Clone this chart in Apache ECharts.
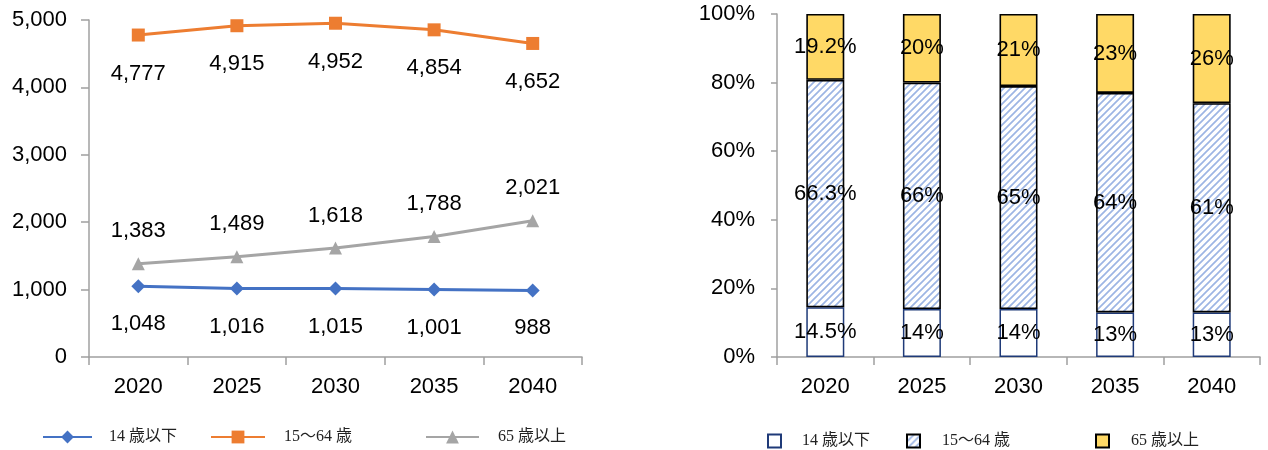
<!DOCTYPE html>
<html>
<head>
<meta charset="utf-8">
<script src="https://cdn.jsdelivr.net/npm/echarts@6/dist/echarts.min.js"></script>
<style>
  html, body { margin: 0; padding: 0; background: #fff; }
  #chart { width: 1268px; height: 450px; }
</style>
</head>
<body>
<div id="chart"></div>
<script>
// Population by age group (thousands) and age composition (%)
const years = ['2020', '2025', '2030', '2035', '2040'];

const popUnder14 = [1048, 1016, 1015, 1001, 988];
const pop15to64 = [4777, 4915, 4952, 4854, 4652];
const pop65plus = [1383, 1489, 1618, 1788, 2021];

const shareUnder14 = [14.5, 14, 14, 13, 13];
const share15to64 = [66.3, 66, 65, 64, 61];
const share65plus = [19.2, 20, 21, 23, 26];

const popTicks = [0, 1000, 2000, 3000, 4000, 5000];
const shareTicks = [0, 20, 40, 60, 80, 100];

const groupNames = ['14 歳以下', '15～64 歳', '65 歳以上'];
// bar series carry their own names so the two legends stay separate
const barNames = ['構成比:14 歳以下', '構成比:15～64 歳', '構成比:65 歳以上'];

// diagonal hatch fill for the working-age segment
function hatch() {
  const s = 7;
  const c = document.createElement('canvas');
  c.width = s; c.height = s;
  const g = c.getContext('2d');
  g.fillStyle = '#ffffff';
  g.fillRect(0, 0, s, s);
  g.strokeStyle = '#9db5e4';
  g.lineWidth = 1.7;
  g.beginPath();
  g.moveTo(-1, s + 1); g.lineTo(s + 1, -1);
  g.moveTo(-1, 1); g.lineTo(1, -1);
  g.moveTo(s - 1, s + 1); g.lineTo(s + 1, s - 1);
  g.stroke();
  return c;
}
const hatchFill = { image: hatch(), repeat: 'repeat' };

const numFont = "'Liberation Sans', Arial, sans-serif";
const legendFont = "'Liberation Serif', 'Noto Sans CJK JP', serif";
const axisGray = '#a0a0a0';

const fmtNum = v => v.toLocaleString('en-US');

function legendAt(left, top, name, iconW, iconH, pad, icon) {
  const lg = {
    left: left, top: top, orient: 'horizontal',
    data: [name], itemWidth: iconW, itemHeight: iconH,
    selectedMode: false,
    formatter: n => n.replace('構成比:', ''),
    textStyle: { fontFamily: legendFont, fontSize: 16, color: '#222', padding: [0, 0, 0, pad] }
  };
  if (icon) lg.icon = icon;
  return lg;
}

const lineLabel = (pos, dist) => ({
  show: true, position: pos, distance: dist,
  fontFamily: numFont, fontSize: 22, color: '#000',
  formatter: p => fmtNum(p.value)
});

const barLabel = {
  show: true, position: 'inside',
  fontFamily: numFont, fontSize: 22, color: '#000',
  formatter: p => p.value + '%'
};

const option = {
  animation: false,
  backgroundColor: '#fff',
  grid: [
    { left: 89, right: 686, top: 20, bottom: 93, containLabel: false, outerBoundsMode: 'none' },
    { left: 777, right: 8, top: 14, bottom: 93, containLabel: false, outerBoundsMode: 'none' }
  ],
  legend: [
    legendAt(37, 424, groupNames[0], 49, 16, 12),
    legendAt(205, 424, groupNames[1], 54, 16, 14),
    legendAt(420, 424, groupNames[2], 53, 16, 14),
    legendAt(762, 428, barNames[0], 13, 13, 16, 'rect'),
    legendAt(901, 428, barNames[1], 13, 13, 17, 'rect'),
    legendAt(1090, 428, barNames[2], 13, 13, 17, 'rect')
  ],
  xAxis: [0, 1].map(i => ({
    type: 'category', gridIndex: i, data: years, boundaryGap: true,
    axisLine: { lineStyle: { color: axisGray, width: 1.5 } },
    axisTick: { show: true, length: 8, inside: false, lineStyle: { color: axisGray, width: 1.5 } },
    axisLabel: { fontFamily: numFont, fontSize: 22, color: '#000', margin: 19 }
  })),
  yAxis: [
    {
      type: 'value', gridIndex: 0, min: popTicks[0], max: popTicks[popTicks.length - 1], interval: 1000,
      axisLine: { show: true, lineStyle: { color: axisGray, width: 1.5 } },
      axisTick: { show: true, length: 8, lineStyle: { color: axisGray, width: 1.5 } },
      splitLine: { show: false },
      axisLabel: { fontFamily: numFont, fontSize: 22, color: '#000', margin: 22, formatter: v => fmtNum(v) }
    },
    {
      type: 'value', gridIndex: 1, min: shareTicks[0], max: shareTicks[shareTicks.length - 1], interval: 20,
      axisLine: { show: true, lineStyle: { color: axisGray, width: 1.5 } },
      axisTick: { show: true, length: 6, lineStyle: { color: axisGray, width: 1.5 } },
      splitLine: { show: false },
      axisLabel: { fontFamily: numFont, fontSize: 22, color: '#000', margin: 22, formatter: v => v + '%' }
    }
  ],
  series: [
    {
      name: groupNames[0], type: 'line', xAxisIndex: 0, yAxisIndex: 0, data: popUnder14,
      color: '#4472c4', symbol: 'diamond', symbolSize: 14,
      lineStyle: { width: 3 }, label: lineLabel('bottom', 20)
    },
    {
      name: groupNames[1], type: 'line', xAxisIndex: 0, yAxisIndex: 0, data: pop15to64,
      color: '#ed7d31', symbol: 'rect', symbolSize: 13,
      lineStyle: { width: 3 }, label: lineLabel('bottom', 21)
    },
    {
      name: groupNames[2], type: 'line', xAxisIndex: 0, yAxisIndex: 0, data: pop65plus,
      color: '#a5a5a5', symbol: 'triangle', symbolSize: 13,
      lineStyle: { width: 3 }, label: lineLabel('top', 15)
    },
    {
      name: barNames[0], type: 'bar', xAxisIndex: 1, yAxisIndex: 1, stack: 'share', data: shareUnder14,
      barWidth: 38,
      itemStyle: { color: '#ffffff', borderColor: '#1f3a78', borderWidth: 1.5 },
      label: barLabel
    },
    {
      name: barNames[1], type: 'bar', xAxisIndex: 1, yAxisIndex: 1, stack: 'share', data: share15to64,
      barWidth: 38,
      itemStyle: { color: hatchFill, borderColor: '#000', borderWidth: 1.6 },
      label: barLabel
    },
    {
      name: barNames[2], type: 'bar', xAxisIndex: 1, yAxisIndex: 1, stack: 'share', data: share65plus,
      barWidth: 38,
      itemStyle: { color: '#ffd966', borderColor: '#000', borderWidth: 1.6 },
      label: barLabel
    }
  ]
};

const chart = echarts.init(document.getElementById('chart'), null, { renderer: 'canvas' });
chart.setOption(option);
</script>
</body>
</html>
